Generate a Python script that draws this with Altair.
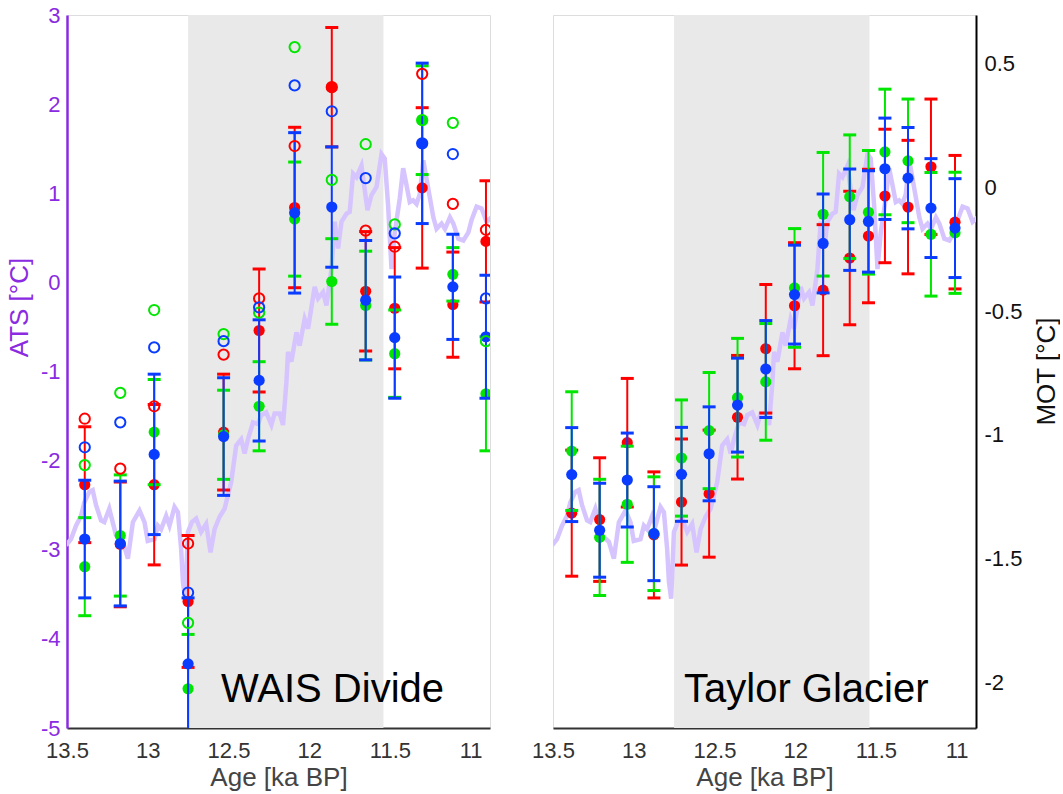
import altair as alt
import pandas as pd
import numpy as np

# ---------------- data ----------------
SERIES = ["red", "green", "blue"]
COLORS = {"red": "#ff0000", "green": "#00e600", "blue": "#0a3cff"}

WAIS_AGE = [13.39, 13.17, 12.96, 12.75, 12.53, 12.31, 12.09, 11.86, 11.65, 11.47, 11.30, 11.11, 10.905]
WAIS_RED = [-2.27, -2.94, -2.27, -3.58, -1.68, -0.54, 0.84, 2.19, -0.10, -0.29, 1.06, -0.25, 0.46]
WAIS_RED_ERR = [0.65, 0.70, 0.90, 0.74, 0.65, 0.69, 0.90, 0.67, 0.67, 0.68, 0.90, 0.59, 0.68]
WAIS_RED_OPEN = [-1.53, -2.09, -1.39, -2.93, -0.81, -0.18, 1.53, 2.19, 0.58, 0.40, 2.34, 0.88, 0.59]
WAIS_GREEN = [-3.19, -2.84, -1.68, -4.56, -1.71, -1.39, 0.71, 0.01, -0.26, -0.80, 1.82, 0.09, -1.25]
WAIS_GREEN_ERR = [0.55, 0.68, 0.59, 0.61, 0.50, 0.50, 0.64, 0.48, 0.61, 0.49, 0.61, 0.30, 0.64]
WAIS_GREEN_OPEN = [-2.05, -1.24, -0.31, -3.82, -0.58, -0.34, 2.64, 1.15, 1.55, 0.65, 1.82, 1.79, -0.66]
WAIS_BLUE = [-2.88, -2.93, -1.93, -4.28, -1.73, -1.10, 0.78, 0.845, -0.20, -0.62, 1.56, -0.05, -0.61]
WAIS_BLUE_ERR = [0.66, 0.70, 0.90, 0.74, 0.66, 0.68, 0.90, 0.675, 0.67, 0.68, 0.90, 0.59, 0.69]
WAIS_BLUE_OPEN = [-1.85, -1.57, -0.73, -3.48, -0.66, -0.28, 2.21, 1.92, 1.17, 0.55, 1.56, 1.44, -0.18]

TG_AGE = [13.384, 13.211, 13.040, 12.875, 12.704, 12.533, 12.357, 12.182, 12.004, 11.827,
          11.662, 11.546, 11.444, 11.301, 11.159, 11.010]
TG_RED = [-1.317, -1.343, -1.032, -1.405, -1.272, -1.238, -0.929, -0.652, -0.478, -0.415,
          -0.285, -0.196, -0.034, -0.079, 0.084, -0.14]
TG_RED_ERR = [0.255, 0.25, 0.26, 0.255, 0.255, 0.257, 0.25, 0.26, 0.255, 0.265,
              0.27, 0.27, 0.27, 0.27, 0.274, 0.27]
TG_GREEN = [-1.066, -1.415, -1.281, -1.40, -1.094, -0.983, -0.85, -0.786, -0.406, -0.108,
            -0.037, -0.10, 0.144, 0.108, -0.189, -0.183]
TG_GREEN_ERR = [0.24, 0.235, 0.235, 0.23, 0.235, 0.235, 0.24, 0.236, 0.24, 0.25,
                0.25, 0.25, 0.254, 0.25, 0.25, 0.245]
TG_BLUE = [-1.161, -1.386, -1.183, -1.40, -1.16, -1.077, -0.88, -0.734, -0.433, -0.226,
           -0.13, -0.137, 0.076, 0.038, -0.083, -0.164]
TG_BLUE_ERR = [0.19, 0.19, 0.19, 0.19, 0.19, 0.19, 0.19, 0.196, 0.20, 0.20,
               0.205, 0.205, 0.205, 0.205, 0.20, 0.20]

# ATS record (purple curve)
ATS_AGE = [13.506, 13.475, 13.444, 13.413, 13.393, 13.362, 13.341, 13.320, 13.289, 13.269,
           13.238, 13.217, 13.196, 13.154, 13.123, 13.092, 13.051, 13.020, 13.000, 12.958,
           12.937, 12.917, 12.886, 12.865, 12.834, 12.813, 12.793, 12.782, 12.768, 12.751,
           12.726, 12.700, 12.669, 12.638, 12.611, 12.586, 12.555, 12.524, 12.483, 12.452,
           12.421, 12.400, 12.379, 12.348, 12.317, 12.297, 12.266, 12.234, 12.214, 12.183,
           12.162, 12.141, 12.131, 12.110, 12.079, 12.059, 12.028, 12.007, 11.966, 11.945,
           11.914, 11.893, 11.862, 11.842, 11.821, 11.800, 11.769, 11.749, 11.728, 11.707,
           11.676, 11.639, 11.614, 11.583, 11.552, 11.532, 11.511, 11.490, 11.470, 11.439,
           11.418, 11.397, 11.377, 11.356, 11.335, 11.315, 11.293, 11.262, 11.231, 11.211,
           11.180, 11.159, 11.128, 11.107, 11.076, 11.045, 11.014, 10.994, 10.963, 10.932,
           10.901, 10.870]
ATS_VAL = [-2.95, -2.88, -2.73, -2.62, -2.47, -2.35, -2.33, -2.50, -2.67, -2.69,
           -2.54, -2.69, -2.84, -2.91, -3.10, -2.69, -2.56, -2.69, -2.90, -2.88,
           -2.73, -2.77, -2.62, -2.73, -2.52, -2.58, -2.99, -3.36, -3.55, -2.80,
           -2.69, -2.65, -2.80, -2.71, -3.03, -2.77, -2.63, -2.54, -2.24, -1.83,
           -1.76, -1.92, -1.76, -1.57, -1.59, -1.49, -1.46, -1.60, -1.47, -1.47,
           -1.60, -1.12, -0.78, -0.89, -0.56, -0.71, -0.41, -0.52, -0.05, -0.18,
           -0.11, -0.26, 0.15, 0.68, 0.38, 0.68, 0.77, 0.79, 1.22, 1.18,
           1.31, 0.81, 0.98, 1.07, 1.44, 1.39, 0.86, 0.15, 0.56, 0.94,
           1.28, 1.09, 0.90, 0.92, 0.88, 0.99, 1.37, 1.05, 0.73, 0.60,
           0.66, 0.60, 0.73, 0.66, 0.49, 0.47, 0.56, 0.70, 0.85, 0.83,
           0.68, 0.73]

SHADE = [12.75, 11.54]
X_TICKS = [13.5, 13, 12.5, 12, 11.5, 11]
ATS_TICKS = [3, 2, 1, 0, -1, -2, -3, -4, -5]
MOT_TICKS = [0.5, 0, -0.5, -1, -1.5, -2]

# ---------------- styling ----------------
FONT = "Liberation Sans"
PURPLE = "#8a2be2"
W, H = 423, 713
LBL = 22
TTL = 26
xscale = alt.Scale(domain=[13.5, 10.88], nice=False, zero=False)
xaxis = alt.Axis(values=X_TICKS, title="Age [ka BP]", labelFlush=False, labelOverlap=False,
                 ticks=False, labelFontSize=LBL, labelColor="#333333", titleFontSize=TTL,
                 titleColor="#444444", titleFontWeight="normal", labelPadding=12, titlePadding=3,
                 domainColor="#333333", domainWidth=2, grid=False, labelFont=FONT, titleFont=FONT,
                 labelExpr="datum.value + ''")
X = alt.X("age:Q", scale=xscale, axis=xaxis)

ats_scale = alt.Scale(domain=[-5, 3], nice=False, zero=False)
ats_axis = alt.Axis(values=ATS_TICKS, title="ATS [°C]", ticks=False, labelFontSize=LBL,
                    labelColor=PURPLE, titleColor=PURPLE, titleFontSize=TTL,
                    titleFontWeight="normal", domainColor=PURPLE, domainWidth=2.5, grid=False,
                    labelPadding=7, labelFlush=False, labelOverlap=False,
                    titleX=-48, titleY=292, titleAngle=270, titleAlign="center",
                    titleBaseline="middle",
                    labelFont=FONT, titleFont=FONT, labelExpr="datum.value + ''")
mot_scale = alt.Scale(domain=[-2.186, 0.698], nice=False, zero=False)
mot_axis = alt.Axis(values=MOT_TICKS, title="MOT [°C]", orient="right", ticks=False,
                    labelFontSize=LBL, labelColor="#111111", titleColor="#111111",
                    titleFontSize=TTL, titleFontWeight="normal", domainColor="#000000",
                    domainWidth=2, grid=False, labelPadding=8, titleX=70, titleY=356,
                    titleAngle=270, titleAlign="center", titleBaseline="middle",
                    labelFlush=False, labelOverlap=False, labelFont=FONT, titleFont=FONT,
                    labelExpr="datum.value + ''")


def build_points(ages, vals, errs, opens, yscale, yaxis):
    layers = []
    for s in SERIES:
        d = pd.DataFrame({"age": ages, "val": vals[s]})
        d["lo"] = d["val"] - np.array(errs[s])
        d["hi"] = d["val"] + np.array(errs[s])
        c = COLORS[s]
        layers.append(alt.Chart(d).mark_rule(color=c, strokeWidth=2, clip=True).encode(
            x=X, y=alt.Y("lo:Q", scale=yscale, axis=yaxis), y2="hi:Q"))
        for col in ["lo", "hi"]:
            layers.append(alt.Chart(d).mark_tick(color=c, orient="horizontal", size=13,
                                                 thickness=3, clip=True, opacity=1).encode(
                x=X, y=alt.Y(f"{col}:Q", scale=yscale, axis=yaxis)))
        layers.append(alt.Chart(d).mark_point(filled=True, shape="circle", size=125, color=c,
                                              opacity=1, clip=True).encode(
            x=X, y=alt.Y("val:Q", scale=yscale, axis=yaxis)))
    if opens is not None:
        for s in SERIES:
            d = pd.DataFrame({"age": ages, "open": opens[s]})
            layers.append(alt.Chart(d).mark_point(filled=False, shape="circle", size=105,
                                                  strokeWidth=2, color=COLORS[s], opacity=1,
                                                  clip=True).encode(
                x=X, y=alt.Y("open:Q", scale=yscale, axis=yaxis)))
    return layers


shade_df = pd.DataFrame({"age": [SHADE[0]], "age2": [SHADE[1]]})
ats_df = pd.DataFrame({"age": ATS_AGE, "ats": ATS_VAL})


def shade_layer():
    return alt.Chart(shade_df).mark_rect(color="#e9e9e9").encode(
        x=X, x2="age2:Q", y=alt.value(0), y2=alt.value(H))


def label_layer(text, px):
    return alt.Chart(pd.DataFrame({"label": [text]})).mark_text(
        font=FONT, fontSize=40, color="#000000", align="left", baseline="alphabetic").encode(
        x=alt.value(px), y=alt.value(687), text="label:N")


# ---------------- left: WAIS Divide ----------------
line_left = alt.Chart(ats_df).mark_line(color="#d6c4ff", strokeWidth=4.5, clip=True).encode(
    x=X, y=alt.Y("ats:Q", scale=ats_scale, axis=ats_axis))
wais_pts = build_points(
    WAIS_AGE,
    {"red": WAIS_RED, "green": WAIS_GREEN, "blue": WAIS_BLUE},
    {"red": WAIS_RED_ERR, "green": WAIS_GREEN_ERR, "blue": WAIS_BLUE_ERR},
    {"red": WAIS_RED_OPEN, "green": WAIS_GREEN_OPEN, "blue": WAIS_BLUE_OPEN},
    ats_scale, ats_axis)
left = alt.layer(shade_layer(), line_left, *wais_pts, label_layer("WAIS Divide", 154)).properties(
    width=W, height=H)

# ---------------- right: Taylor Glacier ----------------
line_right = alt.Chart(ats_df).mark_line(color="#d6c4ff", strokeWidth=4.5, clip=True).encode(
    x=X, y=alt.Y("ats:Q", scale=ats_scale, axis=None))
tg_pts = build_points(
    TG_AGE,
    {"red": TG_RED, "green": TG_GREEN, "blue": TG_BLUE},
    {"red": TG_RED_ERR, "green": TG_GREEN_ERR, "blue": TG_BLUE_ERR},
    None, mot_scale, mot_axis)
right = alt.layer(
    shade_layer(), line_right, alt.layer(*tg_pts), label_layer("Taylor Glacier", 131)
).resolve_scale(y="independent").properties(width=W, height=H)

chart = alt.hconcat(left, right, spacing=40).properties(
    padding={"left": 5, "top": 3, "right": 0, "bottom": 0}
).configure_view(stroke="#1a1a1a", strokeWidth=2).configure(background="white")

chart.save("out.html", embed_options={"renderer": "svg", "actions": False})
